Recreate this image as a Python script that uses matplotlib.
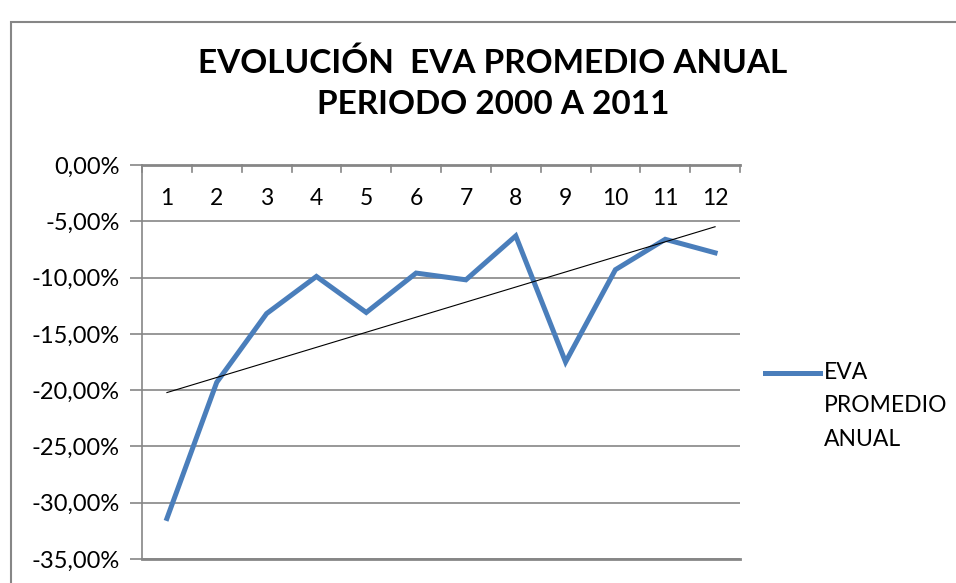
import numpy as np
import matplotlib
matplotlib.use("Agg")
import matplotlib.pyplot as plt
from matplotlib.patches import Rectangle

categories = list(range(1, 13))
eva = [-31.4, -19.3, -13.2, -9.9, -13.1, -9.6, -10.2, -6.3, -17.5, -9.3, -6.6, -7.8]
yticks = [0, -5, -10, -15, -20, -25, -30, -35]
title = "EVOLUCIÓN  EVA PROMEDIO ANUAL\nPERIODO 2000 A 2011"
series_name = "EVA\nPROMEDIO\nANUAL"

plt.rcParams['font.family'] = ['Lato', 'DejaVu Sans']

W, H = 956, 583
fig = plt.figure(figsize=(W / 100, H / 100), dpi=100)
fig.patch.set_facecolor('white')

# outer chart border
fig.add_artist(Rectangle((11 / W, -0.1), 1.2, 1 - 22 / H + 0.1, transform=fig.transFigure,
                         fill=False, edgecolor='#868686', linewidth=1.5))

ax = fig.add_axes([142 / W, 1 - 559 / H, (740 - 142) / W, (559 - 165) / H])
x = np.arange(len(categories))
ax.plot(x, eva, color='#4a7ebb', linewidth=3.6, solid_joinstyle='miter', zorder=3,
        label=series_name)

# linear trendline
coef = np.polyfit(np.array(categories, dtype=float), eva, 1)
trend = np.polyval(coef, np.array(categories, dtype=float))
ax.plot(x, trend, color='black', linewidth=0.8, zorder=4)

ax.set_xlim(-0.5, len(categories) - 0.5)
ax.set_ylim(-35, 0)
ax.set_yticks(yticks)
ax.set_yticklabels([f"{v:.2f}%".replace('.', ',') for v in yticks], fontsize=17)
ax.yaxis.grid(True, color='#868686', linewidth=1.2)
ax.set_axisbelow(True)
ax.tick_params(axis='y', length=9, color='#868686', width=1.2, pad=7)

ax.set_xticks([])
for i, c in enumerate(categories):
    ax.text(i, -2.94, str(c), ha='center', va='center', fontsize=16.5)
# category boundary ticks along the 0 axis
for b in np.arange(len(categories) + 1) - 0.5:
    ax.plot([b, b], [0, -0.6], color='#868686', linewidth=1.2, clip_on=False, zorder=2)

for s in ['right', 'bottom']:
    ax.spines[s].set_visible(False)
ax.spines['top'].set_color('#868686')
ax.spines['top'].set_linewidth(2)
ax.spines['left'].set_color('#868686')
ax.spines['left'].set_linewidth(1.2)
ax.axhline(-35, color='#868686', linewidth=2, clip_on=False)

fig.text(493 / W, 1 - 83 / H, title, ha='center', va='center', fontsize=24,
         fontweight='bold', linespacing=1.5)

# legend
fig.add_artist(plt.Line2D([765 / W, 820 / W], [1 - 373 / H, 1 - 373 / H], color='#4a7ebb',
                          linewidth=3.6, transform=fig.transFigure))
fig.text(824 / W, 1 - 406 / H, series_name, ha='left', va='center', fontsize=16.5,
         linespacing=1.75)

fig.savefig("out.png", dpi=100)
